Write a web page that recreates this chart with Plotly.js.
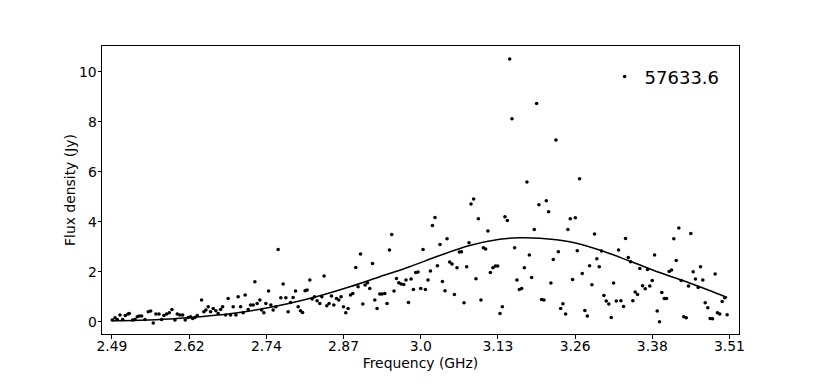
<!DOCTYPE html>
<html>
<head>
<meta charset="utf-8">
<script src="https://cdn.plot.ly/plotly-3.0.1.min.js"></script>
<style>html,body{margin:0;padding:0;background:#fff;}#chart{width:822px;height:384px;}</style>
</head>
<body>
<div id="chart"></div>
<script>
const freq = [
  2.4905,2.4950,2.4987,2.5032,2.5077,2.5120,2.5164,2.5186,2.5242,2.5280,
  2.5318,2.5351,2.5390,2.5445,2.5499,2.5539,2.5582,2.5626,2.5676,2.5720,
  2.5758,2.5803,2.5846,2.5890,2.5940,2.5978,2.6022,2.6067,2.6110,2.6159,
  2.6199,2.6232,2.6270,2.6308,2.6380,2.6418,2.6451,2.6489,2.6529,2.6572,
  2.6616,2.6654,2.6694,2.6727,2.6777,2.6819,2.6859,2.6902,2.6947,2.6984,
  2.7024,2.7067,2.7100,2.7150,2.7189,2.7232,2.7260,2.7298,2.7343,2.7371,
  2.7409,2.7442,2.7486,2.7524,2.7562,2.7607,2.7645,2.7689,2.7727,2.7772,
  2.7810,2.7849,2.7892,2.7932,2.7975,
  2.8014,2.8047,2.8090,2.8123,2.8168,2.8206,2.8245,2.8288,2.8333,2.8366,
  2.8404,2.8448,2.8486,2.8526,2.8564,2.8608,2.8646,2.8684,2.8724,2.8762,
  2.8800,2.8840,2.8877,2.8927,2.8965,2.9005,2.9043,2.9081,2.9120,2.9158,
  2.9203,2.9241,2.9279,2.9323,2.9361,2.9406,2.9444,2.9483,2.9521,2.9559,
  2.9599,2.9637,2.9675,2.9719,2.9757,2.9797,2.9840,2.9879,2.9917,2.9955,
  3.0000,3.0038,3.0077,3.0120,3.0160,3.0193,3.0236,3.0275,3.0318,3.0358,
  3.0401,3.0434,3.0478,3.0516,3.0556,3.0599,3.0638,3.0672,3.0715,3.0759,
  3.0797,3.0830,3.0874,3.0912,3.0952,3.0995,3.1035,3.1072,3.1110,3.1150,
  3.1193,3.1233,3.1271,3.1309,3.1348,3.1391,3.1431,3.1469,3.1507,3.1551,
  3.1589,3.1629,
  3.1667,3.1711,3.1754,3.1794,3.1832,3.1876,3.1914,3.1952,3.1997,3.2035,
  3.2074,3.2112,3.2150,3.2190,3.2233,3.2273,3.2311,3.2348,3.2393,3.2431,
  3.2470,3.2508,3.2553,3.2586,3.2624,3.2668,3.2711,3.2751,3.2789,3.2827,
  3.2871,3.2909,3.2949,3.2987,3.3025,3.3064,3.3107,3.3147,3.3185,3.3230,
  3.3268,3.3306,3.3350,3.3383,3.3428,3.3466,3.3504,3.3543,3.3581,3.3619,
  3.3664,3.3708,3.3746,3.3784,3.3824,3.3862,3.3906,3.3944,3.3982,3.4022,
  3.4060,3.4104,3.4142,3.4180,3.4220,3.4263,3.4302,3.4345,3.4385,3.4423,
  3.4461,3.4500,3.4538,3.4583,3.4621,3.4659,3.4699,3.4742,3.4781,3.4819,
  3.4863,3.4901,3.4939,3.4979,3.5022,3.5061
];
const flux = [
  0.07,0.16,0.09,0.27,0.09,0.25,0.31,0.33,0.07,0.09,
  0.20,0.23,0.23,0.09,0.40,0.43,-0.05,0.31,0.31,0.09,
  0.25,0.31,0.36,0.49,0.07,0.31,0.27,0.27,0.07,0.17,
  0.20,0.13,0.17,0.25,0.87,0.40,0.47,0.60,0.40,0.53,
  0.44,0.33,0.49,0.60,0.27,0.93,0.27,0.60,0.27,1.00,
  0.60,0.36,1.07,0.49,0.67,0.67,1.60,0.73,0.87,0.47,
  0.36,0.73,1.23,0.67,0.47,0.60,2.89,0.96,1.51,0.96,
  0.40,0.77,0.97,1.23,0.60,
  0.44,0.37,1.24,1.27,1.67,0.91,1.00,0.84,0.73,1.00,
  1.83,0.64,0.73,1.03,0.67,0.93,0.87,1.00,0.60,0.36,
  0.53,1.07,1.13,2.17,1.40,2.71,0.71,1.47,1.56,1.33,
  2.33,0.87,0.53,1.11,1.11,1.13,0.73,2.87,3.49,1.23,
  1.73,1.56,1.51,1.49,1.67,0.77,1.71,1.29,1.97,1.99,
  1.33,2.89,1.29,1.67,2.03,3.85,4.17,2.24,3.09,1.61,
  1.24,3.32,2.39,2.31,1.09,2.16,2.79,2.80,0.76,2.20,
  3.16,4.71,4.91,1.72,4.12,0.87,2.96,2.91,3.63,1.97,
  2.16,2.23,2.23,0.33,0.60,4.20,4.05,10.51,8.12,2.96,
  1.67,1.29,
  1.33,2.16,5.59,2.67,1.77,3.69,8.73,4.68,0.89,0.87,
  4.84,4.40,1.55,2.49,7.27,2.80,0.53,0.72,0.31,3.69,
  4.12,1.69,4.16,2.84,5.72,1.93,0.45,0.23,2.24,1.48,
  3.51,2.52,2.20,2.83,1.05,0.83,0.71,0.17,1.55,0.83,
  2.87,0.84,0.61,3.33,2.57,2.40,0.84,1.19,1.09,2.13,
  1.44,1.32,2.09,1.43,1.65,2.67,0.43,0.00,1.17,0.93,
  0.93,2.01,2.07,3.32,2.45,3.75,1.65,0.20,0.16,1.43,
  3.53,2.00,1.71,1.37,2.20,1.67,0.76,0.56,0.13,0.12,
  1.91,0.36,0.31,0.81,0.96,0.28
];
const fitFreq = [2.49,2.5362,2.5857,2.6352,2.6848,2.7343,2.7838,2.8333,2.8828,2.9323,2.9818,3.0313,3.0809,3.1304,3.1634,3.1964,3.2459,3.2954,3.345,3.3945,3.444,3.477,3.5061];
const fitFlux = [0.04,0.06,0.11,0.20,0.32,0.50,0.74,1.04,1.40,1.80,2.20,2.65,3.05,3.30,3.36,3.34,3.20,2.87,2.43,1.97,1.55,1.25,0.97];
const epochLabel = "57633.6";
// Tick positions and labels
const xTickVals = [2.49,2.6175,2.745,2.8725,3.0,3.1275,3.255,3.3825,3.51];
const xTickText = ["2.49","2.62","2.74","2.87","3.0","3.13","3.26","3.38","3.51"];
const yTickVals = [0,2,4,6,8,10];

const font = 'DejaVu Sans, sans-serif';
const traces = [
  {x: freq, y: flux, type: 'scatter', mode: 'markers', name: epochLabel,
   marker: {color: '#000', size: 3.6}, showlegend: true},
  {x: fitFreq, y: fitFlux, type: 'scatter', mode: 'lines', showlegend: false,
   line: {color: '#000', width: 1.5, shape: 'spline', smoothing: 1}}
];
const axisCommon = {
  showline: true, mirror: true, linecolor: '#000', linewidth: 1,
  showgrid: false, zeroline: false, ticks: 'outside', ticklen: 3.5, tickwidth: 1,
  tickcolor: '#000', tickfont: {family: font, size: 13.9, color: '#000'}
};
const layout = {
  width: 822, height: 384,
  margin: {l: 102, r: 82.5, t: 46, b: 50, pad: 0},
  paper_bgcolor: '#fff', plot_bgcolor: '#fff',
  font: {family: font, color: '#000'},
  xaxis: Object.assign({}, axisCommon, {
    range: [2.4735, 3.5257], tickmode: 'array', tickvals: xTickVals, ticktext: xTickText,
    ticklabelstandoff: -4,
    title: {text: 'Frequency (GHz)', font: {family: font, size: 13.9, color: '#000'}, standoff: 5}
  }),
  yaxis: Object.assign({}, axisCommon, {
    range: [-0.49, 11.03], tickmode: 'array', tickvals: yTickVals,
    ticklabelstandoff: -2,
    title: {text: 'Flux density (Jy)', font: {family: font, size: 13.9, color: '#000'}, standoff: 0}
  }),
  showlegend: true,
  legend: {x: 0.789, xanchor: 'left', y: 0.893, yanchor: 'middle',
    bgcolor: 'rgba(0,0,0,0)', borderwidth: 0,
    font: {family: font, size: 18, color: '#000'}}
};
Plotly.newPlot('chart', traces, layout, {staticPlot: true, displayModeBar: false});
</script>
</body>
</html>
